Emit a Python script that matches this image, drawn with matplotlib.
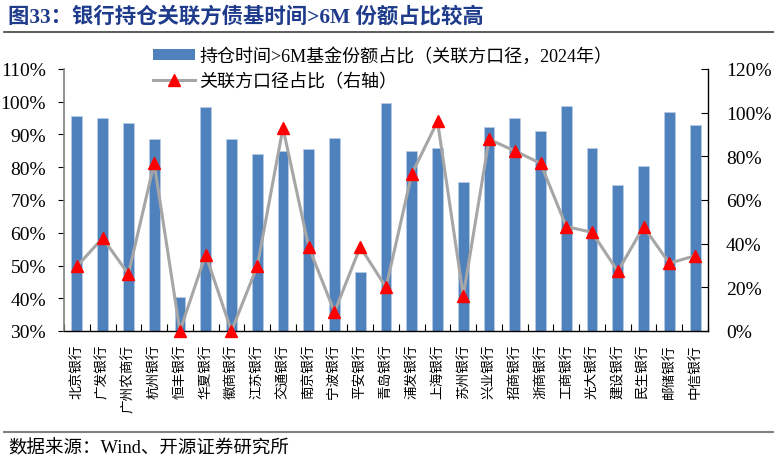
import matplotlib
matplotlib.use("Agg")
import matplotlib.pyplot as plt
import numpy as np
from matplotlib.ticker import FixedLocator, FuncFormatter
from matplotlib.lines import Line2D
from matplotlib.patches import Patch

plt.rcParams['font.family'] = ['Liberation Serif', 'Noto Sans CJK SC']

banks = ["北京银行", "广发银行", "广州农商行", "杭州银行", "恒丰银行", "华夏银行", "徽商银行",
         "江苏银行", "交通银行", "南京银行", "宁波银行", "平安银行", "青岛银行", "浦发银行",
         "上海银行", "苏州银行", "兴业银行", "招商银行", "浙商银行", "工商银行", "光大银行",
         "建设银行", "民生银行", "邮储银行", "中信银行"]
share_gt6m = [95.7, 94.9, 93.4, 88.5, 40.3, 98.3, 88.5, 84.0, 85.1, 85.7, 88.8, 47.9, 99.7,
              85.0, 86.0, 75.6, 92.3, 95.0, 91.0, 98.6, 85.9, 74.7, 80.4, 96.8, 93.0]
related_share = [29.6, 42.6, 26.1, 76.8, 0.0, 35.0, 0.0, 29.6, 93.0, 38.5, 8.7, 38.5, 20.0,
                 71.9, 96.0, 16.2, 87.8, 82.5, 76.8, 47.8, 45.2, 27.3, 47.8, 31.0, 34.5]

bar_label = "持仓时间>6M基金份额占比（关联方口径，2024年）"
line_label = "关联方口径占比（右轴）"
title = "图33：银行持仓关联方债基时间>6M 份额占比较高"
source = "数据来源：Wind、开源证券研究所"

W, H = 774, 464
fig = plt.figure(figsize=(W / 100, H / 100), dpi=100)
ax = fig.add_axes([64 / W, 1 - 332 / H, (708 - 64) / W, (332 - 70) / H])
ax2 = ax.twinx()

x = np.arange(len(banks))
ax.bar(x, share_gt6m, width=0.42, bottom=0, color='#4F81BD', edgecolor='#B9CDE5',
       linewidth=0.5, zorder=2)
ax.set_ylim(30, 110)
ax.set_xlim(-0.5, len(banks) - 0.5)
ax.yaxis.set_major_locator(FixedLocator(np.arange(30, 111, 10)))
ax.yaxis.set_major_formatter(FuncFormatter(lambda v, p: f"{v:.0f}%"))

ax2.plot(x, related_share, color='#A6A6A6', linewidth=2.2, marker='^', markersize=8.5,
         markerfacecolor='#FF0000', markeredgecolor='#FF0000', clip_on=False, zorder=3)
ax2.set_ylim(0, 120)
ax2.yaxis.set_major_locator(FixedLocator(np.arange(0, 121, 20)))
ax2.yaxis.set_major_formatter(FuncFormatter(lambda v, p: f"{v:.0f}%"))

ax.set_xticks(x)
ax.set_xticklabels(banks, rotation=90, va='top', ha='center', fontsize=9.8)
ax.set_xticks(np.arange(-0.5, len(banks), 1.0), minor=True)
ax.tick_params(axis='x', which='major', length=0, pad=9)
ax.tick_params(axis='x', which='minor', direction='in', length=5, width=0.8, color='black')
ax.tick_params(axis='y', direction='out', length=4, width=0.8, labelsize=14, pad=9)
ax2.tick_params(axis='y', direction='in', length=5, width=0.8, labelsize=14, pad=13)

for a in (ax, ax2):
    a.spines['top'].set_visible(False)
ax.spines['left'].set_color('#7F7F7F')
ax.spines['left'].set_linewidth(1.2)
ax2.spines['left'].set_visible(False)
ax2.spines['right'].set_color('#000000')
ax2.spines['right'].set_linewidth(1.0)
ax.spines['right'].set_visible(False)
ax.spines['bottom'].set_color('#000000')
ax.spines['bottom'].set_linewidth(1.0)
ax2.spines['bottom'].set_visible(False)

handles = [Patch(facecolor='#4F81BD', edgecolor='none'),
           Line2D([], [], color='#A6A6A6', linewidth=2.2, marker='^', markersize=8.5,
                  markerfacecolor='#FF0000', markeredgecolor='#FF0000')]
fig.legend(handles, [bar_label, line_label], loc='upper left',
           bbox_to_anchor=(153 / W, 1 - 48 / H), frameon=False, fontsize=13,
           handlelength=2.3, handleheight=0.6, handletextpad=0.25, labelspacing=0.45,
           borderaxespad=0, borderpad=0)

fig.text(8 / W, 1 - 17 / H, title, fontsize=15.4, fontweight='bold', color='#1F3C8C',
         va='center', ha='left')
fig.add_artist(Line2D([4 / W, 1.0], [1 - 33 / H, 1 - 33 / H], color='#404040', linewidth=1.2))
fig.add_artist(Line2D([4 / W, 1.0], [1 - 433 / H, 1 - 433 / H], color='#808080', linewidth=1.5))
fig.text(8 / W, 1 - 449 / H, source, fontsize=13.3, color='black', va='center', ha='left')

fig.savefig("out.png", dpi=100)
